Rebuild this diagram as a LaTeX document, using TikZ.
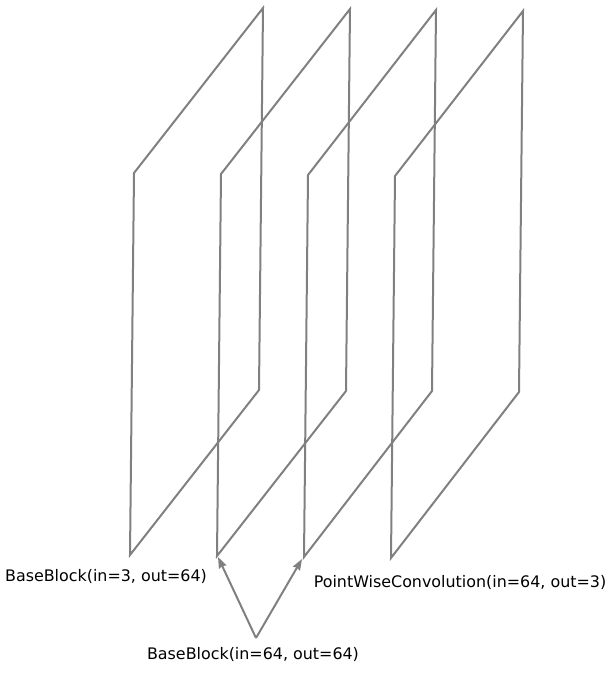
\documentclass[tikz,border=0pt]{standalone}
\usepackage{fontspec}
\setmainfont{DejaVu Sans}
\usetikzlibrary{arrows.meta}
\begin{document}
\begin{tikzpicture}[x=1pt,y=-1pt,
  plane/.style={draw=gray,line width=2pt,line join=miter},
  conn/.style={draw=gray,line width=2pt,-{Stealth[length=11pt,width=8pt,inset=1pt]}},
  lbl/.style={font=\fontsize{15.9}{19}\selectfont,inner sep=0pt,anchor=center}]
\useasboundingbox (0,0) rectangle (614,678);
\draw[plane] (134,173) -- (263,8) -- (259,390) -- (130,555) -- cycle;
\draw[plane] (221,174) -- (350,9) -- (346,391) -- (217,556) -- cycle;
\draw[plane] (308,175) -- (436,10) -- (432,391) -- (304,557) -- cycle;
\draw[plane] (395,176) -- (523,11) -- (519,392) -- (391,558) -- cycle;
\node[lbl] (b1) at (106,577) {BaseBlock(in=3, out=64)};
\node[lbl] (pw) at (460,582) {PointWiseConvolution(in=64, out=3)};
\node[lbl] (b2) at (253,654) {BaseBlock(in=64, out=64)};
\coordinate (src) at (256,638);
\coordinate (t1) at (218,557);
\coordinate (t2) at (302,559);
\draw[conn] (src) -- (t1);
\draw[conn] (src) -- (t2);
\end{tikzpicture}
\end{document}
